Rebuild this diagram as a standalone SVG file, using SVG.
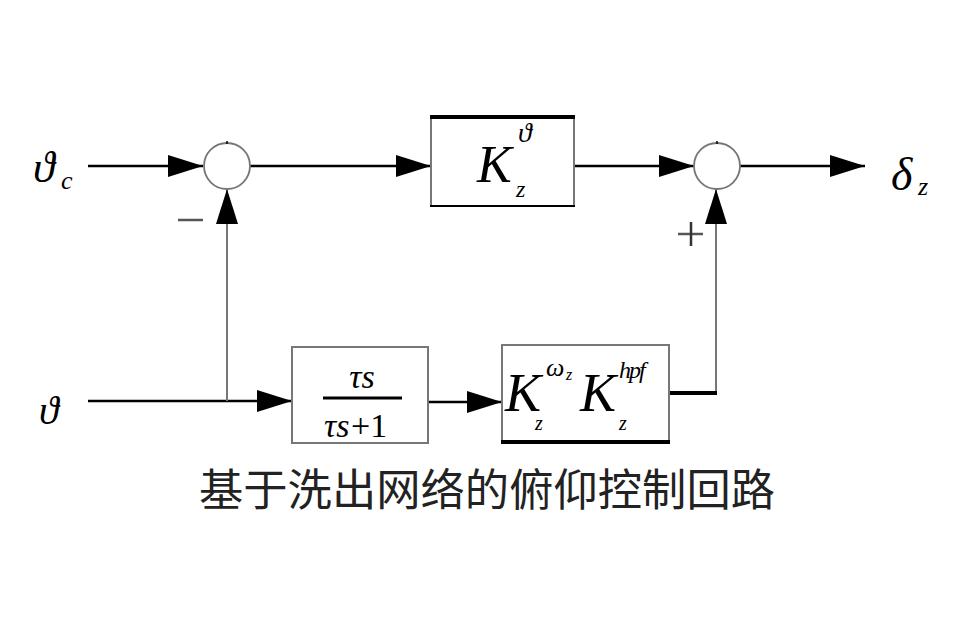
<svg xmlns="http://www.w3.org/2000/svg" width="956" height="637" viewBox="0 0 956 637">
<style>
.m{font-family:"Liberation Serif","DejaVu Serif",serif;font-style:italic;fill:#000}
.b{fill:#fff;stroke:#777;stroke-width:2}
.k{stroke:#000;stroke-width:4}
.ln{stroke:#000;stroke-width:2.5;fill:none}
.lg{stroke:#777;stroke-width:2;fill:none}
.sum{fill:#fff;stroke:#777;stroke-width:1.8}
.cn{font-family:"Noto Sans CJK SC","Noto Sans",sans-serif;fill:#222}
</style>
<defs>
<marker id="ar" viewBox="0 0 35 22" refX="35" refY="11" markerWidth="35" markerHeight="22" markerUnits="userSpaceOnUse" orient="auto">
<path d="M0,0 L35,11 L0,22 Z" fill="#000"/>
</marker>
</defs>
<rect width="956" height="637" fill="#fff"/>
<g id="connectors">
<line class="ln" x1="88" y1="166" x2="203" y2="166" marker-end="url(#ar)"/>
<line class="ln" x1="250" y1="166" x2="431" y2="166" marker-end="url(#ar)"/>
<line class="ln" x1="574" y1="166" x2="694" y2="166" marker-end="url(#ar)"/>
<line class="ln" x1="740" y1="166" x2="865" y2="166" marker-end="url(#ar)"/>
<line class="ln" x1="88" y1="401" x2="292" y2="401" marker-end="url(#ar)"/>
<line class="lg" x1="227" y1="401" x2="227" y2="189" marker-end="url(#ar)"/>
<line class="ln" x1="428" y1="402" x2="502" y2="402" marker-end="url(#ar)"/>
<path class="lg" d="M716,393 L716,189" marker-end="url(#ar)"/>
<line stroke="#000" stroke-width="4" x1="669" y1="393" x2="717" y2="393"/>
</g>
<g id="sum1">
<circle class="sum" cx="227" cy="166" r="23"/>
<line stroke="#000" stroke-width="1.5" x1="227" y1="141" x2="227" y2="144"/>
<line stroke="#555" stroke-width="2.5" x1="178" y1="220" x2="203" y2="220"/>
</g>
<g id="sum2">
<circle class="sum" cx="717" cy="166" r="23"/>
<line stroke="#000" stroke-width="1.5" x1="717" y1="141" x2="717" y2="144"/>
<line stroke="#555" stroke-width="2.5" x1="678" y1="234" x2="703" y2="234"/>
<line stroke="#333" stroke-width="2.5" x1="691" y1="222" x2="691" y2="246"/>
</g>
<g id="gain">
<rect class="b" x="431" y="117" width="143" height="89"/>
<line class="k" x1="430" y1="117" x2="575" y2="117"/>
<line stroke="#000" stroke-width="2" x1="430" y1="206" x2="575" y2="206"/>
<text class="m" x="477" y="182" font-size="52">K</text>
<text class="m" x="518" y="142" font-size="28">ϑ</text>
<text class="m" x="516" y="197" font-size="24">z</text>
</g>
<g id="washout">
<rect class="b" x="292" y="347" width="136" height="96"/>
<text class="m" x="362" y="388" font-size="34" text-anchor="middle">τs</text>
<line stroke="#000" stroke-width="3" x1="323" y1="398" x2="402" y2="398"/>
<text class="m" x="324" y="437" font-size="34">τs</text>
<text x="351" y="437" font-size="34" font-family="Liberation Serif,serif">+1</text>
</g>
<g id="gains2">
<rect class="b" x="502" y="345" width="167" height="97"/>
<line class="k" x1="501" y1="442" x2="670" y2="442"/>
<text class="m" x="505" y="411" font-size="54">K</text>
<text class="m" x="546" y="376" font-size="26">ω</text>
<text class="m" x="566" y="380" font-size="16">z</text>
<text class="m" x="535" y="430" font-size="20">z</text>
<text class="m" x="580" y="411" font-size="54">K</text>
<text class="m" x="619" y="378" font-size="24" letter-spacing="-2">hpf</text>
<text class="m" x="619" y="430" font-size="20">z</text>
</g>
<g id="labels">
<text class="m" x="33" y="182" font-size="44">ϑ</text>
<text class="m" x="61" y="189" font-size="26">c</text>
<text class="m" x="39" y="424" font-size="40">ϑ</text>
<text class="m" x="891" y="190" font-size="46">δ</text>
<text class="m" x="918" y="195" font-size="26">z</text>
</g>
<text class="cn" x="199" y="506" font-size="44" textLength="576" lengthAdjust="spacingAndGlyphs">基于洗出网络的俯仰控制回路</text>
</svg>
